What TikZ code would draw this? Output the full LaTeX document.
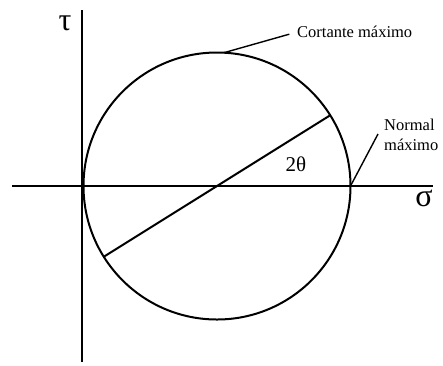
\documentclass[tikz,border=0pt]{standalone}
\usepackage{fontspec}
\setmainfont{Liberation Serif}
\begin{document}
\begin{tikzpicture}[x=1pt,y=-1pt,
  axis/.style={line width=2.1pt},
  curve/.style={line width=2pt},
  leader/.style={line width=1.4pt},
  lbl/.style={inner sep=0pt,font=\fontsize{16.5}{20}\selectfont},
  greek/.style={inner sep=0pt,font=\fontsize{32}{32}\selectfont}]
\useasboundingbox (0,0) rectangle (443,365);
\coordinate (O) at (217,186);
\coordinate (axL) at (12,186);
\coordinate (axR) at (433,186);
\coordinate (axT) at (82,10);
\coordinate (axB) at (82,362);
\draw[axis] (axL) -- (axR);
\draw[axis] (axT) -- (axB);
\draw[curve] (O) circle[radius=133.5];
\path (O) ++(-32:133.5) coordinate (D1);
\path (O) ++(148:133.5) coordinate (D2);
\draw[curve] (D1) -- (D2);
\node[greek] (tau) at (65,23) {τ};
\node[greek] (sigma) at (424,198) {σ};
\node[inner sep=0pt,font=\fontsize{21}{21}\selectfont] (theta) at (296,164) {2θ};
\node[lbl,anchor=west] (cort) at (297,32) {Cortante máximo};
\node[lbl,anchor=north west,align=left] (norm) at (384,119) {Normal\\máximo};
\path (O) ++(-87:133.5) coordinate (top);
\coordinate (right) at (350.5,186);
\draw[leader,shorten >=8pt] (top) -- (cort.west);
\draw[leader] (right) -- (378,134) coordinate (nl);
\end{tikzpicture}
\end{document}
